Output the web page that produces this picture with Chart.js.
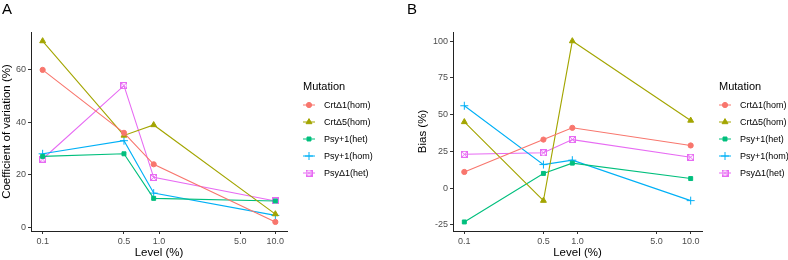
<!DOCTYPE html>
<html>
<head>
<meta charset="utf-8">
<script src="https://cdn.jsdelivr.net/npm/chart.js@4.4.1/dist/chart.umd.min.js"></script>
<style>
  body { margin: 0; background: #fff; }
  .panel { position: absolute; top: 0; width: 394px; height: 260px; }
  .tag { position: absolute; top: 0; font: 15px "Liberation Sans", Arial, sans-serif; color: #000; }
</style>
</head>
<body>
<div class="panel" style="left:0"><canvas id="cvChart" width="394" height="260"></canvas></div>
<div class="panel" style="left:394px"><canvas id="biasChart" width="394" height="260"></canvas></div>
<div class="tag" style="left:2px">A</div>
<div class="tag" style="left:407px">B</div>
<script>
// Data
const levels = [0.1, 0.5, 0.9, 10];
const xTicks = [0.1, 0.5, 1, 5, 10];
const mutations = ['CrtΔ1(hom)', 'CrtΔ5(hom)', 'Psy+1(het)', 'Psy+1(hom)', 'PsyΔ1(het)'];
const colors = ['#F8766D', '#A3A500', '#00BF7D', '#00B0F6', '#E76BF3'];

// Coefficient of variation (%)
const cvCrtD1 = [60, 36, 24, 2];
const cvCrtD5 = [71, 35, 39, 5];
const cvPsy1Het = [27, 28, 11, 10];
const cvPsy1Hom = [28, 33, 13, 4.5];
const cvPsyD1Het = [26, 54, 19, 10];
const cvTicks = [0, 20, 40, 60];

// Bias (%)
const biasCrtD1 = [11, 33, 41, 29];
const biasCrtD5 = [45, -8.5, 100, 46];
const biasPsy1Het = [-23, 10, 17, 6.5];
const biasPsy1Hom = [56, 16, 19, -8.5];
const biasPsyD1Het = [23, 24, 33, 21];
const biasTicks = [-25, 0, 25, 50, 75, 100];

const FONT = '"Liberation Sans", Arial, sans-serif';

// square with an X inside (ggplot shape 7)
function boxCross(color) {
    const c = document.createElement('canvas');
    c.width = 7; c.height = 7;
    const g = c.getContext('2d');
    g.strokeStyle = color;
    g.lineWidth = 1;
    g.strokeRect(0.5, 0.5, 6, 6);
    g.beginPath();
    g.moveTo(1, 1); g.lineTo(6, 6);
    g.moveTo(6, 1); g.lineTo(1, 6);
    g.stroke();
    return c;
}

const pointStyles = [
    { pointStyle: 'circle', pointRadius: 2.6 },
    { pointStyle: 'triangle', pointRadius: 3.4 },
    { pointStyle: 'rect', pointRadius: 2.8 },
    { pointStyle: 'cross', pointRadius: 4 },
    { pointStyle: boxCross(colors[4]), pointRadius: 3.5 }
];

function makeDatasets(series) {
    return series.map((vals, i) => ({
        label: mutations[i],
        data: vals.map((v, j) => ({ x: levels[j], y: v })),
        borderColor: colors[i],
        backgroundColor: colors[i],
        pointBackgroundColor: colors[i],
        pointBorderColor: colors[i],
        borderWidth: 1.1,
        pointBorderWidth: 1,
        pointStyle: pointStyles[i].pointStyle,
        pointRadius: pointStyles[i].pointRadius,
        tension: 0
    }));
}

// ggplot-like legend: title + line with point in the middle
const ggLegend = {
    id: 'ggLegend',
    afterDraw(chart, args, opts) {
        const ctx = chart.ctx;
        ctx.save();
        ctx.textBaseline = 'middle';
        ctx.textAlign = 'left';
        ctx.fillStyle = '#000';
        ctx.font = '11px ' + FONT;
        ctx.fillText('Mutation', opts.x, opts.titleY);
        ctx.font = '9px ' + FONT;
        chart.data.datasets.forEach((ds, i) => {
            const y = opts.firstY + i * opts.step;
            ctx.strokeStyle = ds.borderColor;
            ctx.fillStyle = ds.borderColor;
            ctx.lineWidth = 1;
            ctx.beginPath();
            ctx.moveTo(opts.x, y);
            ctx.lineTo(opts.x + 12, y);
            ctx.stroke();
            Chart.helpers.drawPoint(ctx, {
                pointStyle: ds.pointStyle,
                radius: ds.pointRadius,
                borderWidth: 1,
                rotation: 0
            }, opts.x + 6, y);
            ctx.fillStyle = '#000';
            ctx.fillText(ds.label, opts.x + 21, y + 0.5);
        });
        ctx.restore();
    }
};

function makeChart(id, series, yTicks, yMin, yMax, yTitle, pad, yWidth, legendX) {
    return new Chart(document.getElementById(id), {
        type: 'line',
        data: { datasets: makeDatasets(series) },
        plugins: [ggLegend],
        options: {
            responsive: false,
            animation: false,
            layout: { padding: { top: 32, left: pad.left, right: pad.right, bottom: 0 } },
            plugins: {
                legend: { display: false },
                tooltip: { enabled: false },
                ggLegend: { x: legendX, titleY: 87, firstY: 105, step: 17 }
            },
            scales: {
                x: {
                    type: 'logarithmic',
                    min: Math.pow(10, -1.1),
                    max: Math.pow(10, 1.1),
                    afterBuildTicks: s => { s.ticks = xTicks.map(v => ({ value: v })); },
                    afterFit: s => { s.height = 29; },
                    border: { display: true, color: '#222', width: 1 },
                    grid: { drawOnChartArea: false, drawTicks: true, tickLength: 3, color: '#333' },
                    ticks: {
                        color: '#4D4D4D',
                        font: { family: FONT, size: 9 },
                        padding: 2,
                        maxRotation: 0,
                        callback: v => Number(v).toFixed(1)
                    },
                    title: {
                        display: true, text: 'Level (%)', color: '#000',
                        font: { family: FONT, size: 11.5 }, padding: 0
                    }
                },
                y: {
                    min: yMin,
                    max: yMax,
                    afterBuildTicks: s => { s.ticks = yTicks.map(v => ({ value: v })); },
                    afterFit: s => { s.width = yWidth; },
                    border: { display: true, color: '#222', width: 1 },
                    grid: { drawOnChartArea: false, drawTicks: true, tickLength: 3, color: '#333' },
                    ticks: {
                        color: '#4D4D4D',
                        font: { family: FONT, size: 9 },
                        padding: 2
                    },
                    title: {
                        display: true, text: yTitle, color: '#000',
                        font: { family: FONT, size: 11.5 }, padding: 0
                    }
                }
            }
        }
    });
}

makeChart('cvChart',
    [cvCrtD1, cvCrtD5, cvPsy1Het, cvPsy1Hom, cvPsyD1Het],
    cvTicks, -1.45, 74.45, 'Coefficient of variation (%)',
    { left: 0, right: 107 }, 31, 303);

makeChart('biasChart',
    [biasCrtD1, biasCrtD5, biasPsy1Het, biasPsy1Hom, biasPsyD1Het],
    biasTicks, -29.15, 106.15, 'Bias (%)',
    { left: 22, right: 86 }, 37, 325);
</script>
</body>
</html>
